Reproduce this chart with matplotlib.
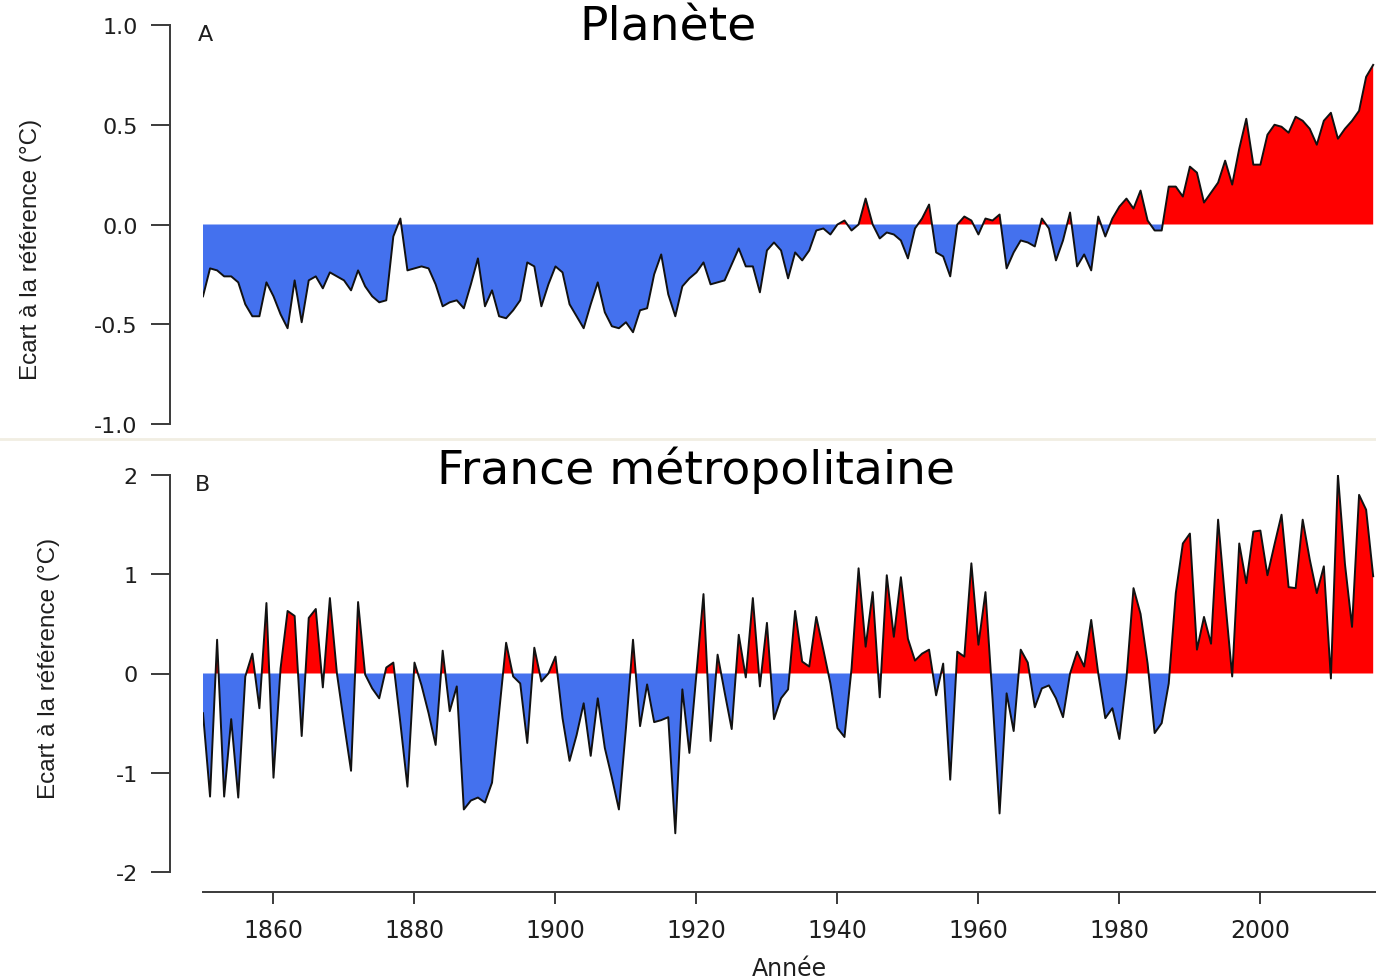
import numpy as np
import matplotlib.pyplot as plt
from matplotlib.lines import Line2D

# annual anomalies, 1850-2016
years = np.arange(1850, 2017)

planete = [
    -0.36, -0.22, -0.23, -0.26, -0.26, -0.29, -0.40, -0.46, -0.46, -0.29,
    -0.36, -0.45, -0.52, -0.28, -0.49, -0.28, -0.26, -0.32, -0.24, -0.26,
    -0.28, -0.33, -0.23, -0.31, -0.36, -0.39, -0.38, -0.06, 0.03, -0.23,
    -0.22, -0.21, -0.22, -0.30, -0.41, -0.39, -0.38, -0.42, -0.30, -0.17,
    -0.41, -0.33, -0.46, -0.47, -0.43, -0.38, -0.19, -0.21, -0.41, -0.30,
    -0.21, -0.24, -0.40, -0.46, -0.52, -0.40, -0.29, -0.44, -0.51, -0.52,
    -0.49, -0.54, -0.43, -0.42, -0.25, -0.15, -0.35, -0.46, -0.31, -0.27,
    -0.24, -0.19, -0.30, -0.29, -0.28, -0.20, -0.12, -0.21, -0.21, -0.34,
    -0.13, -0.09, -0.13, -0.27, -0.14, -0.18, -0.13, -0.03, -0.02, -0.05,
    0.00, 0.02, -0.03, 0.00, 0.13, 0.00, -0.07, -0.04, -0.05, -0.08,
    -0.17, -0.02, 0.03, 0.10, -0.14, -0.16, -0.26, 0.00, 0.04, 0.02,
    -0.05, 0.03, 0.02, 0.05, -0.22, -0.14, -0.08, -0.09, -0.11, 0.03,
    -0.02, -0.18, -0.08, 0.06, -0.21, -0.15, -0.23, 0.04, -0.06, 0.03,
    0.09, 0.13, 0.08, 0.17, 0.02, -0.03, -0.03, 0.19, 0.19, 0.14,
    0.29, 0.26, 0.11, 0.16, 0.21, 0.32, 0.20, 0.38, 0.53, 0.30,
    0.30, 0.45, 0.50, 0.49, 0.46, 0.54, 0.52, 0.48, 0.40, 0.52,
    0.56, 0.43, 0.48, 0.52, 0.57, 0.74, 0.80,
]

france = [
    -0.40, -1.24, 0.34, -1.24, -0.46, -1.25, -0.03, 0.20, -0.35, 0.71,
    -1.05, 0.05, 0.63, 0.58, -0.63, 0.56, 0.65, -0.14, 0.76, 0.00,
    -0.50, -0.98, 0.72, -0.01, -0.15, -0.25, 0.06, 0.11, -0.50, -1.14,
    0.11, -0.12, -0.40, -0.72, 0.23, -0.38, -0.13, -1.37, -1.28, -1.25,
    -1.30, -1.10, -0.40, 0.31, -0.03, -0.10, -0.70, 0.26, -0.08, 0.00,
    0.17, -0.45, -0.88, -0.62, -0.30, -0.83, -0.25, -0.75, -1.05, -1.37,
    -0.55, 0.34, -0.53, -0.11, -0.49, -0.47, -0.44, -1.61, -0.16, -0.80,
    0.00, 0.80, -0.68, 0.19, -0.19, -0.56, 0.39, -0.04, 0.76, -0.13,
    0.51, -0.46, -0.25, -0.16, 0.63, 0.12, 0.07, 0.57, 0.24, -0.10,
    -0.55, -0.64, 0.05, 1.06, 0.27, 0.82, -0.24, 0.99, 0.37, 0.97,
    0.35, 0.13, 0.20, 0.24, -0.22, 0.10, -1.07, 0.22, 0.17, 1.11,
    0.29, 0.82, -0.25, -1.41, -0.20, -0.58, 0.24, 0.11, -0.34, -0.15,
    -0.12, -0.25, -0.44, 0.00, 0.22, 0.07, 0.54, 0.00, -0.45, -0.35,
    -0.66, -0.05, 0.86, 0.60, 0.10, -0.60, -0.50, -0.10, 0.81, 1.31,
    1.41, 0.24, 0.57, 0.30, 1.55, 0.74, -0.03, 1.31, 0.91, 1.43,
    1.44, 0.99, 1.30, 1.60, 0.87, 0.86, 1.55, 1.15, 0.81, 1.08,
    -0.05, 2.00, 1.10, 0.47, 1.80, 1.65, 0.98,
]

ticks_a = [1.0, 0.5, 0.0, -0.5, -1.0]
labels_a = ["1.0", "0.5", "0.0", "-0.5", "-1.0"]
ticks_b = [2, 1, 0, -1, -2]
labels_b = ["2", "1", "0", "-1", "-2"]
xticks = [1860, 1880, 1900, 1920, 1940, 1960, 1980, 2000]

W, H = 1376, 978
BLUE = '#4471ee'
RED = '#ff0000'
AXC = '#3a3a3a'
TXT = '#1e1e1e'
narrow = ['Liberation Sans Narrow', 'Liberation Sans', 'DejaVu Sans']

fig = plt.figure(figsize=(W / 100, H / 100), dpi=100)


def box(x0, y0, x1, y1):
    return [x0 / W, 1 - y1 / H, (x1 - x0) / W, (y1 - y0) / H]


def panel(ax, vals, ylim, ticks, labels):
    v = np.array(vals)
    ax.fill_between(years, v, 0, where=v >= 0, interpolate=True, color=RED, lw=0)
    ax.fill_between(years, v, 0, where=v <= 0, interpolate=True, color=BLUE, lw=0)
    ax.plot(years, v, color='#111111', lw=1.4)
    ax.set_xlim(1850, 2016.4)
    ax.set_ylim(*ylim)
    for s in ['top', 'right']:
        ax.spines[s].set_visible(False)
    ax.spines['left'].set_position(('outward', 24))
    ax.spines['left'].set_bounds(ylim[0], ylim[1])
    ax.spines['left'].set_color(AXC)
    ax.spines['left'].set_linewidth(1.4)
    ax.set_yticks(ticks)
    ax.set_yticklabels(labels)
    ax.tick_params(axis='y', length=14, width=1.4, color=AXC, pad=9,
                   labelsize=16, labelcolor=TXT)


ax1 = fig.add_axes(box(203, 26, 1376, 425))
panel(ax1, planete, (-1.0, 1.0), ticks_a, labels_a)
ax1.spines['bottom'].set_visible(False)
ax1.set_xticks([])

ax2 = fig.add_axes(box(203, 476, 1376, 873))
panel(ax2, france, (-2, 2), ticks_b, labels_b)
ax2.spines['bottom'].set_position(('outward', 14.4))
ax2.spines['bottom'].set_color(AXC)
ax2.spines['bottom'].set_linewidth(1.4)
ax2.set_xticks(xticks)
ax2.tick_params(axis='x', length=8.6, width=1.4, color=AXC, pad=10,
                labelsize=17, labelcolor=TXT)

ax1.set_ylabel('Ecart à la référence (°C)', family=narrow, fontsize=17.5,
               color=TXT)
ax1.yaxis.set_label_coords(-0.137, 0.44)
ax2.set_ylabel('Ecart à la référence (°C)', family=narrow, fontsize=17.5,
               color=TXT)
ax2.yaxis.set_label_coords(-0.122, 0.515)
ax2.set_xlabel('Année', fontsize=17, color=TXT, labelpad=10)

fig.text(668 / W, 1 - 28 / H, 'Planète', fontsize=34, ha='center', va='center')
fig.text(696 / W, 1 - 470 / H, 'France métropolitaine', fontsize=34,
         ha='center', va='center')
fig.text(205 / W, 1 - 35 / H, 'A', fontsize=16, ha='center', va='center',
         color=TXT)
fig.text(202 / W, 1 - 485 / H, 'B', fontsize=16, ha='center', va='center',
         color=TXT)

# faint separator between the two panels
fig.add_artist(Line2D([0, 1], [1 - 440 / H, 1 - 440 / H], color='#f1eee2',
                      lw=2, transform=fig.transFigure))

fig.savefig('out.png', dpi=100, facecolor='white')
